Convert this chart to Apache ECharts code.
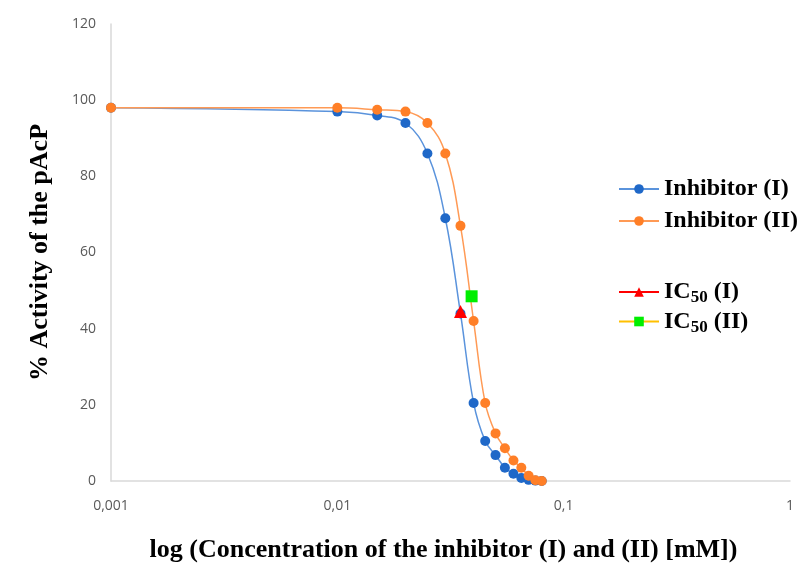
<!DOCTYPE html>
<html>
<head>
<meta charset="utf-8">
<script src="https://cdn.jsdelivr.net/npm/echarts@6/dist/echarts.min.js"></script>
<style>
  html,body{margin:0;padding:0;background:#fff;}
  #main{width:807px;height:566px;}
</style>
</head>
<body>
<div id="main"></div>
<script>
// concentrations (mM), shared by both inhibitors
var conc = [0.001, 0.01, 0.015, 0.02, 0.025, 0.03, 0.035, 0.04, 0.045, 0.05, 0.055, 0.06, 0.065, 0.07, 0.075, 0.08];
var activityI  = [98, 97, 96, 94, 86, 69, 44, 20.5, 10.5, 6.8, 3.5, 1.9, 0.8, 0.3, 0.1, 0];
var activityII = [98, 98, 97.5, 97, 94, 86, 67, 42, 20.5, 12.5, 8.6, 5.4, 3.5, 1.4, 0.2, 0];
var ic50I  = [0.035, 44.5];
var ic50II = [0.0392, 48.5];
var xTickLabels = ['0,001', '0,01', '0,1', '1'];

function pairs(xs, ys){
  var res = [];
  for (var i = 0; i < xs.length; i++) res.push([xs[i], ys[i]]);
  return res;
}

var serif = '"Liberation Serif", "DejaVu Serif", serif';
var sans = '"Open Sans", "Liberation Sans", Arial, sans-serif';
var legendText = {
  fontFamily: serif, fontWeight: 'bold', fontSize: 24, color: '#000',
  rich: {
    sub: {fontFamily: serif, fontWeight: 'bold', fontSize: 17, color: '#000', padding: [12, 0, 0, 0]}
  }
};

var chart = echarts.init(document.getElementById('main'));
var option = {
  animation: false,
  grid: {left: 111, right: 17, top: 24, bottom: 85, outerBoundsMode: 'none'},
  legend: [
    {
      data: ['Inhibitor (I)', 'Inhibitor (II)'],
      orient: 'vertical', left: 613, top: 172,
      itemWidth: 40, itemHeight: 12, itemGap: 8,
      textStyle: legendText
    },
    {
      data: ['IC50 (I)', 'IC50 (II)'],
      orient: 'vertical', left: 613, top: 275,
      itemWidth: 40, itemHeight: 12, itemGap: 3,
      textStyle: legendText,
      formatter: function(name){ return name.replace('50', '{sub|50}'); }
    }
  ],
  xAxis: {
    type: 'log', logBase: 10, min: 0.001, max: 1,
    name: 'log (Concentration of the inhibitor (I) and (II) [mM])',
    nameLocation: 'middle', nameGap: 56,
    nameTextStyle: {fontFamily: serif, fontWeight: 'bold', fontSize: 26, color: '#000', padding: [0, 14, 0, 0]},
    axisLine: {lineStyle: {color: '#d9d9d9', width: 1.5}},
    axisTick: {show: false},
    splitLine: {show: false},
    minorTick: {show: false},
    axisLabel: {
      color: '#595959', fontSize: 14, margin: 18, fontFamily: sans,
      formatter: function(v){
        var k = Math.round(Math.log(v) / Math.LN10) + 3;
        return xTickLabels[k] || '';
      }
    }
  },
  yAxis: {
    type: 'value', min: 0, max: 120, interval: 20,
    name: '% Activity of the pAcP',
    nameLocation: 'middle', nameGap: 58,
    nameTextStyle: {fontFamily: serif, fontWeight: 'bold', fontSize: 26, color: '#000'},
    axisLine: {show: true, lineStyle: {color: '#d9d9d9', width: 1.5}},
    axisTick: {show: false},
    splitLine: {show: false},
    axisLabel: {color: '#595959', fontSize: 14, margin: 15, fontFamily: sans}
  },
  series: [
    {
      name: 'Inhibitor (I)', type: 'line', smooth: 0.4,
      data: pairs(conc, activityI),
      symbol: 'circle', symbolSize: 10,
      itemStyle: {color: '#1f68c8'},
      lineStyle: {color: '#5a93dc', width: 1.5},
      z: 2
    },
    {
      name: 'Inhibitor (II)', type: 'line', smooth: 0.4,
      data: pairs(conc, activityII),
      symbol: 'circle', symbolSize: 10,
      itemStyle: {color: '#ff7f27'},
      lineStyle: {color: '#ff9a55', width: 1.5},
      z: 3
    },
    {
      name: 'IC50 (I)', type: 'line',
      data: [ic50I],
      symbol: 'triangle', symbolSize: 13,
      itemStyle: {color: '#ff0000'},
      lineStyle: {color: '#ff0000', width: 2},
      z: 5
    },
    {
      name: 'IC50 (II)', type: 'line',
      data: [ic50II],
      symbol: 'rect', symbolSize: 12,
      itemStyle: {color: '#00ee00'},
      lineStyle: {color: '#ffc000', width: 2},
      z: 5
    }
  ]
};
chart.setOption(option);
</script>
</body>
</html>
